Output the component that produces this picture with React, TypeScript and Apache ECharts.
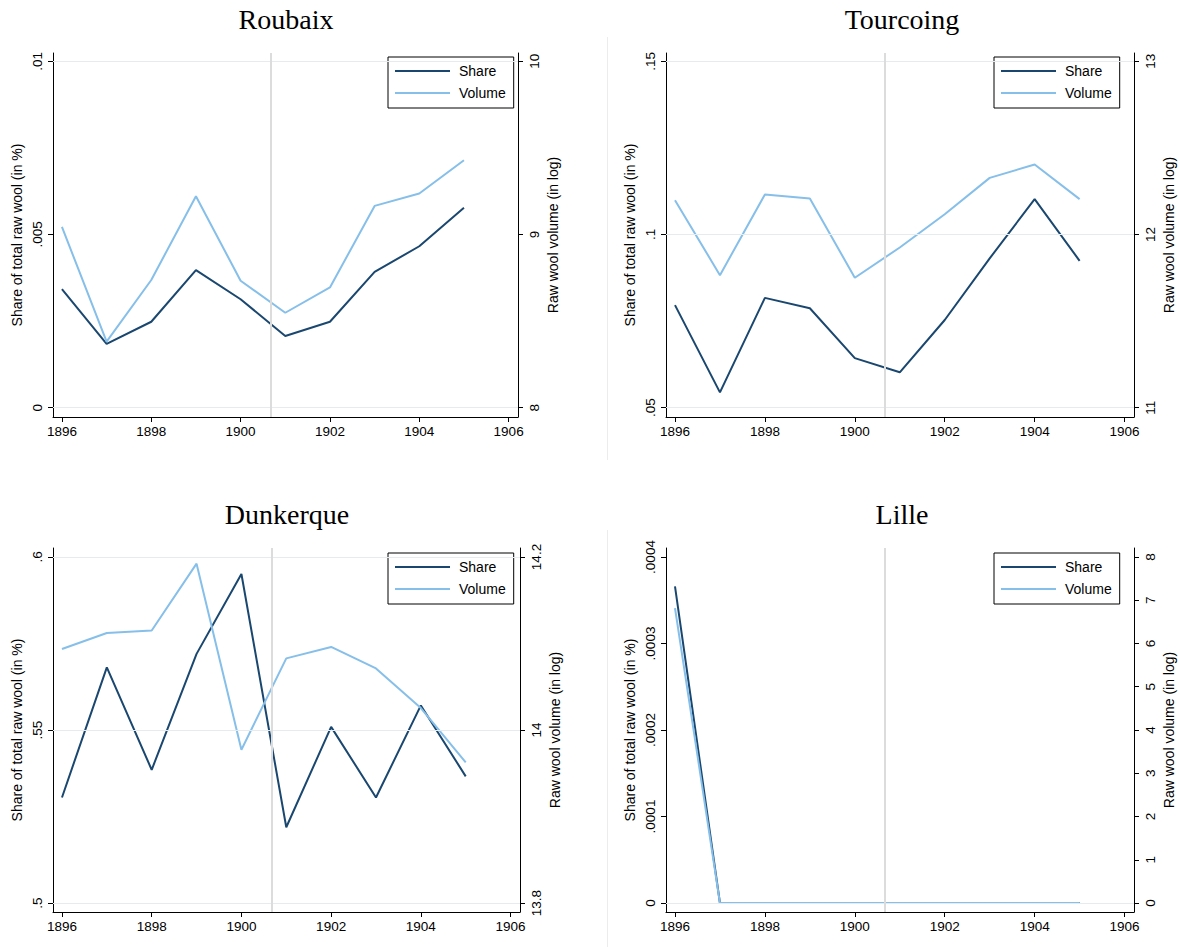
import React, { useEffect, useRef } from "react";
import * as echarts from "echarts";

// ---------- data ----------
const years = [1896, 1897, 1898, 1899, 1900, 1901, 1902, 1903, 1904, 1905];
const xTicks = [1896, 1898, 1900, 1902, 1904, 1906];
const treatmentYear = 1900.67;

const roubaixShare = [0.00342, 0.00184, 0.00248, 0.00397, 0.00313, 0.00207, 0.00248, 0.00392, 0.00466, 0.00577];
const roubaixVolume = [9.044, 8.381, 8.737, 9.221, 8.733, 8.548, 8.694, 9.165, 9.237, 9.429];
const roubaixShareTicks = [0, 0.005, 0.01];
const roubaixVolumeTicks = [8, 9, 10];

const tourcoingShare = [0.0796, 0.0544, 0.0817, 0.0787, 0.0643, 0.0602, 0.0753, 0.0931, 0.1102, 0.0924];
const tourcoingVolume = [12.198, 11.765, 12.231, 12.208, 11.75, 11.925, 12.117, 12.327, 12.404, 12.204];
const tourcoingShareTicks = [0.05, 0.1, 0.15];
const tourcoingVolumeTicks = [11, 12, 13];

const dunkerqueShare = [0.5305, 0.5681, 0.5385, 0.572, 0.5951, 0.5219, 0.5509, 0.5305, 0.5571, 0.5366];
const dunkerqueVolume = [14.0936, 14.1121, 14.1151, 14.1923, 13.9772, 14.0828, 14.096, 14.0712, 14.0254, 13.9625];
const dunkerqueShareTicks = [0.5, 0.55, 0.6];
const dunkerqueVolumeTicks = [13.8, 14, 14.2];

const lilleShare = [0.000366, 0, 0, 0, 0, 0, 0, 0, 0, 0];
const lilleVolume = [6.82, 0, 0, 0, 0, 0, 0, 0, 0, 0];
const lilleShareTicks = [0, 0.0001, 0.0002, 0.0003, 0.0004];
const lilleVolumeTicks = [0, 1, 2, 3, 4, 5, 6, 7, 8];

const titles = ["Roubaix", "Tourcoing", "Dunkerque", "Lille"];
const seriesNames = ["Share", "Volume"];
const leftAxisTitle = "Share of total raw wool (in %)";
const rightAxisTitle = "Raw wool volume (in log)";

// ---------- layout / style ----------
const NAVY = "#1a476f";
const LIGHT = "#86bfe9";
const GRIDLINE = "#e4ecee";
const VLINE = "#dcdcdc";
const SANS = "'Liberation Sans', Arial, sans-serif";
const SERIF = "'Liberation Serif', 'DejaVu Serif', serif";

const layouts = [
  { left: 53, top: 53, width: 465, height: 364, padTop: 0.024, padBottom: 0.027, legendLeft: 388, legendTop: 57, titleX: 286, titleY: 5 },
  { left: 666, top: 53, width: 468, height: 364, padTop: 0.024, padBottom: 0.027, legendLeft: 994, legendTop: 57, titleX: 902, titleY: 5 },
  { left: 53, top: 548, width: 467, height: 364, padTop: 0.026, padBottom: 0.026, legendLeft: 388, legendTop: 553, titleX: 287, titleY: 500 },
  { left: 666, top: 548, width: 468, height: 364, padTop: 0.026, padBottom: 0.026, legendLeft: 994, legendTop: 553, titleX: 902, titleY: 500 },
];

const panelData = [
  { share: roubaixShare, volume: roubaixVolume, lt: roubaixShareTicks, rt: roubaixVolumeTicks },
  { share: tourcoingShare, volume: tourcoingVolume, lt: tourcoingShareTicks, rt: tourcoingVolumeTicks },
  { share: dunkerqueShare, volume: dunkerqueVolume, lt: dunkerqueShareTicks, rt: dunkerqueVolumeTicks },
  { share: lilleShare, volume: lilleVolume, lt: lilleShareTicks, rt: lilleVolumeTicks },
];

function fmtShare(v: number): string {
  if (Math.abs(v) < 1e-12) return "0";
  const s = parseFloat(v.toPrecision(6)).toString();
  return s.replace(/^0\./, ".").replace(/^-0\./, "-.");
}
function fmtPlain(v: number): string {
  return parseFloat(v.toPrecision(6)).toString();
}

function buildOption() {
  const grid: any[] = [];
  const xAxis: any[] = [];
  const yAxis: any[] = [];
  const series: any[] = [];
  const legend: any[] = [];
  const title: any[] = [];

  panelData.forEach((p, i) => {
    const L = layouts[i];
    grid.push({ left: L.left, top: L.top, width: L.width, height: L.height, containLabel: false });

    const axisLineStyle = { color: "#000", width: 1 };
    xAxis.push({
      gridIndex: i,
      type: "value",
      min: 1895.8,
      max: 1906.21,
      axisLine: { show: true, onZero: false, lineStyle: axisLineStyle },
      axisTick: { show: true, length: 5, customValues: xTicks, lineStyle: axisLineStyle },
      axisLabel: { customValues: xTicks, fontSize: 13.5, color: "#000", fontFamily: SANS, margin: 7, formatter: (v: number) => String(v) },
      splitLine: { show: false },
    });

    const lMin = p.lt[0], lMax = p.lt[p.lt.length - 1], lSpan = lMax - lMin;
    const rMin = p.rt[0], rMax = p.rt[p.rt.length - 1], rSpan = rMax - rMin;
    yAxis.push({
      gridIndex: i,
      type: "value",
      position: "left",
      min: lMin - L.padBottom * lSpan,
      max: lMax + L.padTop * lSpan,
      name: leftAxisTitle,
      nameLocation: "middle",
      nameGap: 29,
      nameTextStyle: { fontSize: 14, color: "#000", fontFamily: SANS },
      axisLine: { show: true, onZero: false, lineStyle: axisLineStyle },
      axisTick: { show: true, length: 5, customValues: p.lt, lineStyle: axisLineStyle },
      axisLabel: { customValues: p.lt, rotate: 90, fontSize: 13.5, color: "#000", fontFamily: SANS, margin: 9, formatter: fmtShare },
      splitLine: { show: false },
    });
    yAxis.push({
      gridIndex: i,
      type: "value",
      position: "right",
      min: rMin - L.padBottom * rSpan,
      max: rMax + L.padTop * rSpan,
      name: rightAxisTitle,
      nameLocation: "middle",
      nameGap: 28,
      nameTextStyle: { fontSize: 14, color: "#000", fontFamily: SANS },
      axisLine: { show: true, onZero: false, lineStyle: axisLineStyle },
      axisTick: { show: true, length: 5, customValues: p.rt, lineStyle: axisLineStyle },
      axisLabel: { customValues: p.rt, rotate: 90, fontSize: 13.5, color: "#000", fontFamily: SANS, margin: 9, formatter: fmtPlain },
      splitLine: { show: false },
    });

    // reference lines (grid lines + treatment line)
    series.push({
      type: "line",
      name: "ref" + i,
      xAxisIndex: i,
      yAxisIndex: 2 * i,
      data: [],
      z: 1,
      silent: true,
      markLine: {
        silent: true,
        symbol: ["none", "none"],
        label: { show: false },
        emphasis: { disabled: true },
        animation: false,
        data: [
          ...p.lt.map((v) => ({ yAxis: v, lineStyle: { color: GRIDLINE, width: 1, type: "solid" } })),
          { xAxis: treatmentYear, lineStyle: { color: VLINE, width: 2, type: "solid" } },
        ],
      },
    });

    series.push({
      type: "line",
      name: seriesNames[0],
      xAxisIndex: i,
      yAxisIndex: 2 * i,
      data: years.map((y, k) => [y, p.share[k]]),
      symbol: "none",
      lineStyle: { color: NAVY, width: 2 },
      itemStyle: { color: NAVY },
      z: 3,
    });
    series.push({
      type: "line",
      name: seriesNames[1],
      xAxisIndex: i,
      yAxisIndex: 2 * i + 1,
      data: years.map((y, k) => [y, p.volume[k]]),
      symbol: "none",
      lineStyle: { color: LIGHT, width: 2 },
      itemStyle: { color: LIGHT },
      z: 4,
    });

    legend.push({
      data: seriesNames,
      orient: "vertical",
      left: L.legendLeft,
      top: L.legendTop,
      borderColor: "#000",
      borderWidth: 1,
      backgroundColor: "#fff",
      padding: [7, 8, 8, 6],
      itemWidth: 55,
      itemHeight: 12,
      itemGap: 8,
      selectedMode: false,
      itemStyle: { opacity: 0 },
      lineStyle: { width: 2 },
      textStyle: { fontSize: 14, color: "#000", fontFamily: SANS, padding: [0, 0, 0, 4] },
    });

    title.push({
      text: titles[i],
      left: L.titleX,
      top: L.titleY,
      textAlign: "center",
      padding: 0,
      textStyle: { fontFamily: SERIF, fontSize: 28, fontWeight: "normal", color: "#000" },
    });
  });

  return {
    animation: false,
    backgroundColor: "#fff",
    title,
    legend,
    grid,
    xAxis,
    yAxis,
    series,
    graphic: [
      { type: "line", shape: { x1: 607.5, y1: 37, x2: 607.5, y2: 460 }, style: { stroke: "#ececec", lineWidth: 1 }, silent: true },
      { type: "line", shape: { x1: 607.5, y1: 530, x2: 607.5, y2: 947 }, style: { stroke: "#ececec", lineWidth: 1 }, silent: true },
    ],
  };
}

export default function App() {
  const ref = useRef<HTMLDivElement>(null);
  useEffect(() => {
    if (!ref.current) return;
    const chart = echarts.init(ref.current, null, { renderer: "svg" });
    chart.setOption(buildOption() as any);
    return () => chart.dispose();
  }, []);
  return (
    <div
      ref={ref}
      style={{ position: "fixed", left: 0, top: 0, width: 1180, height: 947, background: "#fff" }}
    />
  );
}
